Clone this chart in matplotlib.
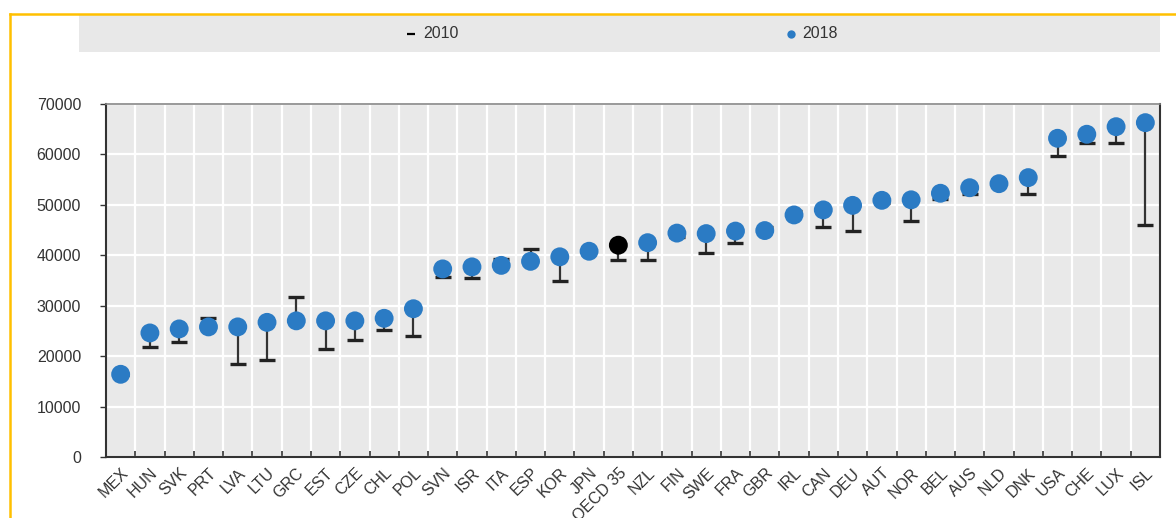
import matplotlib
matplotlib.use("Agg")
import matplotlib.pyplot as plt
from matplotlib.lines import Line2D
from matplotlib.patches import Rectangle
import numpy as np

plt.rcParams["font.family"] = ["Liberation Sans", "DejaVu Sans"]

countries = ["MEX", "HUN", "SVK", "PRT", "LVA", "LTU", "GRC", "EST", "CZE", "CHL",
             "POL", "SVN", "ISR", "ITA", "ESP", "KOR", "JPN", "OECD 35", "NZL", "FIN",
             "SWE", "FRA", "GBR", "IRL", "CAN", "DEU", "AUT", "NOR", "BEL", "AUS",
             "NLD", "DNK", "USA", "CHE", "LUX", "ISL"]
val_2018 = [16400, 24600, 25400, 25800, 25800, 26700, 27000, 27000, 27000, 27500,
            29400, 37300, 37700, 38000, 38800, 39700, 40800, 42000, 42500, 44400,
            44300, 44800, 44900, 48000, 49000, 49900, 50900, 51000, 52300, 53400,
            54200, 55400, 63200, 64000, 65500, 66300]
val_2010 = [16300, 21900, 22800, 27500, 18400, 19200, 31800, 21500, 23200, 25200,
            23900, 35700, 35400, 39300, 41200, 35000, 40700, 39000, 39000, 43600,
            40500, 42500, 45700, 48700, 45600, 44800, 50400, 46800, 51100, 52200,
            54600, 52200, 59700, 62200, 62200, 46000]
highlight = "OECD 35"

BLUE = "#2B7BC4"
TXT = "#333333"

fig = plt.figure(figsize=(11.76, 5.18), dpi=100)

# gold frame
fig.add_artist(Line2D([10 / 1176, 1.0], [1 - 14 / 518] * 2, color="#FFC000", lw=1.8))
fig.add_artist(Line2D([10 / 1176] * 2, [0, 1 - 14 / 518], color="#FFC000", lw=1.8))

# legend strip
fig.add_artist(Rectangle((79 / 1176, 1 - 52 / 518), (1160 - 79) / 1176, 37 / 518,
                         facecolor="#E8E8E8", edgecolor="none"))
ly = 1 - 34 / 518
fig.add_artist(Line2D([411 / 1176], [ly], marker="_", color="black", ms=6, mew=1.6))
fig.text(423 / 1176, ly, "2010", ha="left", va="center", fontsize=11.5, color=TXT)
fig.add_artist(Line2D([791 / 1176], [ly], marker="o", color=BLUE, ms=6, mec="none"))
fig.text(802 / 1176, ly, "2018", ha="left", va="center", fontsize=11.5, color=TXT)

ax = fig.add_axes([106 / 1176, 1 - 457 / 518, (1160 - 106) / 1176, (457 - 104) / 518])
ax.set_facecolor("#E9E9E9")

x = np.arange(len(countries))
ax.vlines(x, val_2010, val_2018, color="#333333", lw=1.6, zorder=3)
ax.plot(x, val_2010, ls="none", marker="_", ms=12, mew=2.4, color="#222222", zorder=3)
colors = ["black" if c == highlight else BLUE for c in countries]
ax.scatter(x, val_2018, s=185, c=colors, edgecolors="none", zorder=4)

ax.set_xlim(-0.5, len(countries) - 0.5)
ax.set_ylim(0, 70000)
ax.set_yticks(np.arange(0, 70001, 10000))
ax.set_yticklabels([str(v) for v in range(0, 70001, 10000)], fontsize=11.5, color=TXT)
ax.set_xticks(x)
ax.set_xticklabels(countries, rotation=45, ha="right", va="top",
                   rotation_mode="anchor", fontsize=11.5, color=TXT)
ax.set_xticks(np.arange(0.5, len(countries) - 0.5, 1), minor=True)
ax.tick_params(axis="x", which="major", length=0, pad=6)
ax.tick_params(axis="x", which="minor", direction="in", length=4, width=1.2, color="#333333")
ax.tick_params(axis="y", direction="out", length=4, width=1, color="#333333", pad=14)
for lbl in ax.get_yticklabels():
    lbl.set_horizontalalignment("right")

ax.grid(True, axis="y", which="major", color="white", lw=1.6)
ax.grid(True, axis="x", which="minor", color="white", lw=1.6)
ax.set_axisbelow(True)

for side in ["left", "bottom", "right"]:
    ax.spines[side].set_color("#333333")
    ax.spines[side].set_linewidth(1.5)
ax.spines["top"].set_color("#888888")
ax.spines["top"].set_linewidth(1.2)

fig.savefig("out.png", dpi=100)
